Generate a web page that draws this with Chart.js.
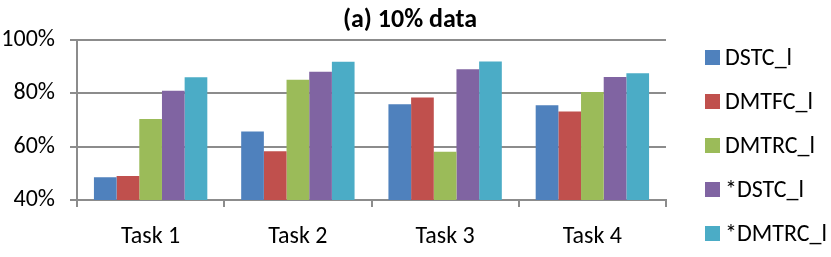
<!DOCTYPE html>
<html>
<head>
<meta charset="utf-8">
<script src="https://cdn.jsdelivr.net/npm/chart.js@4/dist/chart.umd.min.js"></script>
<style>
  html, body { margin: 0; padding: 0; background: #fff; }
  #wrap { width: 831px; height: 257px; }
</style>
</head>
<body>
<div id="wrap"><canvas id="chart"></canvas></div>
<script>
const tasks = ['Task 1', 'Task 2', 'Task 3', 'Task 4'];
const seriesNames = ['DSTC_l', 'DMTFC_l', 'DMTRC_l', '*DSTC_l', '*DMTRC_l'];
const dstc = [48.5, 65.7, 75.9, 75.5];
const dmtfc = [49.0, 58.3, 78.4, 73.2];
const dmtrc = [70.4, 85.1, 58.1, 80.5];
const dstcStar = [81.0, 88.1, 89.0, 86.1];
const dmtrcStar = [86.0, 91.8, 91.9, 87.5];
const yTicks = [40, 60, 80, 100];
const chartTitle = '(a) 10% data';

const colors = ['#4f81bd', '#c0504d', '#9bbb59', '#8064a2', '#4bacc6'];
const values = [dstc, dmtfc, dmtrc, dstcStar, dmtrcStar];
const fontFamily = 'Carlito, "Open Sans", sans-serif';
const gridGray = '#8c8c8c';

// title and right-hand legend drawn by hand so they sit where the original has them
const sideParts = {
    id: 'sideParts',
    afterDraw(chart) {
        const ctx = chart.ctx;
        ctx.save();
        ctx.fillStyle = '#000';
        ctx.textBaseline = 'middle';
        ctx.textAlign = 'center';
        ctx.font = 'bold 26px ' + fontFamily;
        ctx.fillText(chartTitle, 410, 20);

        ctx.textAlign = 'left';
        ctx.font = '24px ' + fontFamily;
        chart.data.datasets.forEach((ds, i) => {
            const y = 57.5 + i * 44;
            ctx.fillStyle = ds.backgroundColor;
            ctx.fillRect(705, y - 7.5, 15, 15);
            ctx.fillStyle = '#000';
            ctx.fillText(ds.label, 725, y + 1);
        });
        ctx.restore();
    }
};

new Chart(document.getElementById('chart').getContext('2d'), {
    type: 'bar',
    data: {
        labels: tasks,
        datasets: seriesNames.map((name, i) => ({
            label: name,
            data: values[i],
            backgroundColor: colors[i],
            borderWidth: 0,
            categoryPercentage: 0.77,
            barPercentage: 1.0
        }))
    },
    options: {
        responsive: true,
        maintainAspectRatio: false,
        animation: false,
        layout: { padding: { top: 40, right: 165, left: 0, bottom: 0 } },
        plugins: {
            legend: { display: false },
            tooltip: { enabled: false },
            title: { display: false }
        },
        scales: {
            x: {
                grid: {
                    offset: true,
                    drawOnChartArea: false,
                    color: gridGray,
                    lineWidth: 2,
                    tickLength: 7
                },
                border: { color: gridGray, width: 2 },
                ticks: {
                    color: '#000',
                    padding: 16,
                    font: { family: fontFamily, size: 24 }
                },
                afterFit: scale => { scale.height = 57; }
            },
            y: {
                min: 40,
                max: 100,
                afterBuildTicks: scale => {
                    scale.ticks = yTicks.map(v => ({ value: v }));
                },
                grid: {
                    color: gridGray,
                    lineWidth: 2,
                    tickLength: 7
                },
                border: { color: gridGray, width: 2 },
                ticks: {
                    color: '#000',
                    padding: 15,
                    font: { family: fontFamily, size: 24 },
                    callback: v => v + '%'
                },
                afterFit: scale => { scale.width = 77; }
            }
        }
    },
    plugins: [sideParts]
});
</script>
</body>
</html>
